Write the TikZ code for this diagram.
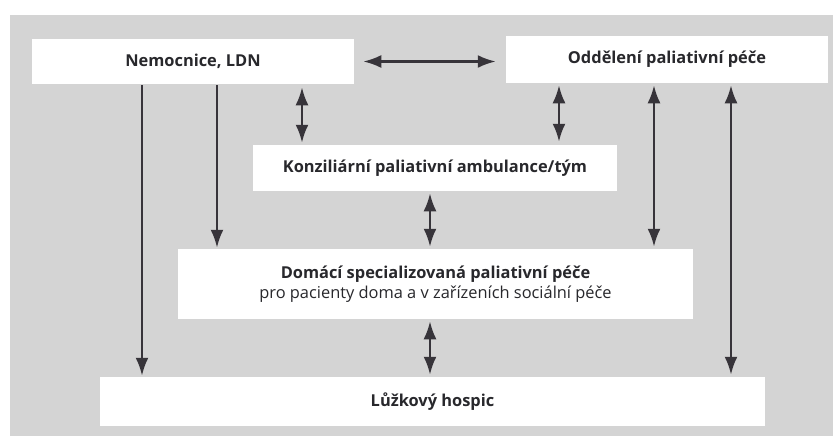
\documentclass[tikz,border=0pt]{standalone}
\usepackage{fontspec}
\setmainfont{Open Sans}
\usetikzlibrary{arrows.meta}
\definecolor{panelgray}{RGB}{212,212,212}
\definecolor{linegray}{RGB}{55,52,58}
\definecolor{textgray}{RGB}{40,40,44}

\begin{document}
\begin{tikzpicture}[x=1pt, y=-1pt, line width=2.5pt,
    box/.style = {fill=white, text=textgray, font=\fontsize{16.4}{20}\selectfont\bfseries, inner sep=0pt, align=center},
    link/.style = {draw=linegray, -{Latex[length=18pt,width=13pt]}},
    both/.style = {draw=linegray, {Latex[length=18pt,width=13pt]}-{Latex[length=18pt,width=13pt]}}]
        \useasboundingbox (0,0) rectangle (839,442);
        \fill[panelgray] (10,15) rectangle (833,436);
        \node[box, minimum width=322pt, minimum height=45pt] (nem) at (193,61.5)  {Nemocnice, LDN};
        \node[box, minimum width=322pt, minimum height=47pt] (odd) at (667,59.5)  {Oddělení paliativní péče};
        \node[box, minimum width=364pt, minimum height=46pt] (kon) at (435,168)   {Konziliární paliativní ambulance/tým};
        \node[box, minimum width=515pt, minimum height=70pt] (dom) at (435.5,284) {Domácí specializovaná paliativní péče\\{\mdseries pro pacienty doma a v zařízeních sociální péče}};
        \node[box, minimum width=665pt, minimum height=49pt] (hos) at (432.5,401.5) {Lůžkový hospic};
        \draw[both, shorten <=8pt, shorten >=9pt] (nem.east) -- (nem.east -| odd.west);
        \draw[link] ([xshift=-51pt]nem.south) -- ([xshift=-51pt]nem.south |- hos.north);
        \draw[link] ([xshift=24pt]nem.south) -- ([xshift=24pt]nem.south |- dom.north);
        \draw[both, shorten <=2pt, shorten >=1pt] ([xshift=109pt]nem.south) -- ([xshift=109pt]nem.south |- kon.north);
        \draw[both, shorten <=1pt, shorten >=2pt] ([xshift=-108pt]odd.south) -- ([xshift=-108pt]odd.south |- kon.north);
        \draw[both, shorten <=1pt, shorten >=1pt] ([xshift=-13pt]odd.south) -- ([xshift=-13pt]odd.south |- dom.north);
        \draw[both, shorten <=1pt, shorten >=1pt] ([xshift=64pt]odd.south) -- ([xshift=64pt]odd.south |- hos.north);
        \draw[both, shorten <=1pt, shorten >=1pt] ([xshift=-5pt]kon.south) -- ([xshift=-5pt]kon.south |- dom.north);
        \draw[both, shorten <=1pt, shorten >=1pt] ([xshift=-5pt]kon.south |- dom.south) -- ([xshift=-5pt]kon.south |- hos.north);
    \end{tikzpicture}
\end{document}
